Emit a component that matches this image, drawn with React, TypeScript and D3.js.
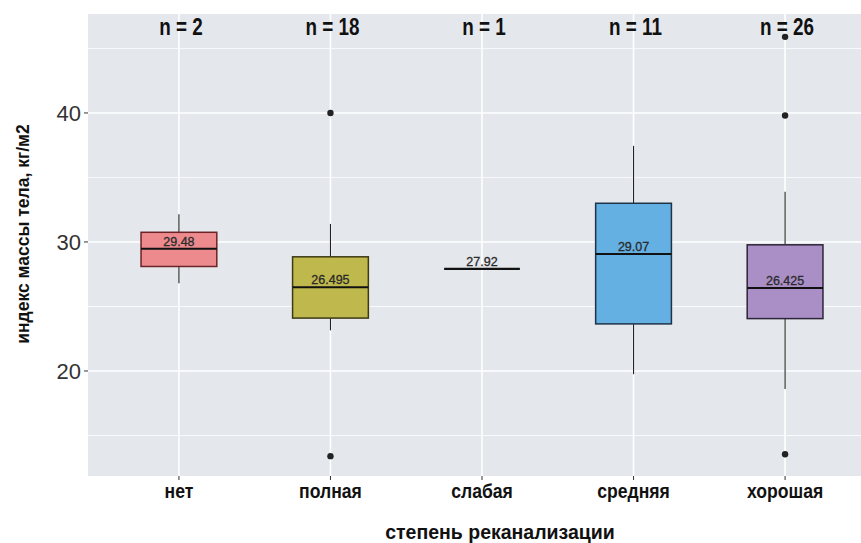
import React from 'react'
import * as d3 from 'd3'

const categories = ['нет', 'полная', 'слабая', 'средняя', 'хорошая']
const counts = [2, 18, 1, 11, 26]
const q1 = [28.1, 24.1, 27.92, 23.65, 24.06]
const medians = [29.48, 26.495, 27.92, 29.07, 26.425]
const medianLabels = ['29.48', '26.495', '27.92', '29.07', '26.425']
const q3 = [30.75, 28.85, 27.92, 33.0, 29.78]
const whiskerLo = [26.8, 23.15, 27.92, 19.75, 18.6]
const whiskerHi = [32.15, 31.4, 27.92, 37.45, 33.9]
const outliers = [[], [40.0, 13.4], [], [], [45.9, 39.8, 13.55]]
const fills = ['#EC8A8E', '#BFB84C', '#888888', '#64B0E3', '#A98FC6']
const strokes = ['#6b2326', '#3d3a14', '#222222', '#1f3346', '#2e2438']
const yTicks = [20, 30, 40]
const yMinor = [15, 25, 35, 45]

const W = 861
const H = 543
const panel = { left: 88, top: 14, right: 876, bottom: 476 }
const sans = '"Liberation Sans", Arial, sans-serif'

const App = () => {
  const x = d3.scalePoint<string>()
    .domain(categories)
    .range([panel.left, panel.right])
    .padding(0.6)
  const y = d3.scaleLinear().domain([11.86, 47.67]).range([panel.bottom, panel.top])
  const boxW = x.step() * 0.5

  return (
    <div style={{ position: 'absolute', left: 0, top: 0 }}>
      <svg width={W} height={H} style={{ display: 'block', background: '#fff' }}>
        <rect x={panel.left} y={panel.top} width={panel.right - panel.left}
          height={panel.bottom - panel.top} fill="#E4E7EC" />
        {yMinor.map((t) => (
          <line key={'mi' + t} x1={panel.left} x2={panel.right} y1={y(t)} y2={y(t)}
            stroke="#fff" strokeWidth={0.8} />
        ))}
        {yTicks.map((t) => (
          <line key={'ma' + t} x1={panel.left} x2={panel.right} y1={y(t)} y2={y(t)}
            stroke="#fff" strokeWidth={1.6} />
        ))}
        {categories.map((c) => (
          <line key={'v' + c} x1={x(c)} x2={x(c)} y1={panel.top} y2={panel.bottom}
            stroke="#fff" strokeWidth={1.6} />
        ))}

        {/* boxes */}
        {categories.map((c, i) => {
          const cx = x(c) as number
          if (counts[i] === 1) {
            return (
              <line key={'b' + c} x1={cx - boxW / 2} x2={cx + boxW / 2} y1={y(medians[i])} y2={y(medians[i])}
                stroke="#111" strokeWidth={2.2} />
            )
          }
          return (
            <g key={'b' + c}>
              <line x1={cx} x2={cx} y1={y(whiskerHi[i])} y2={y(q3[i])} stroke="#222" strokeWidth={1.1} />
              <line x1={cx} x2={cx} y1={y(q1[i])} y2={y(whiskerLo[i])} stroke="#222" strokeWidth={1.1} />
              <rect x={cx - boxW / 2} y={y(q3[i])} width={boxW} height={y(q1[i]) - y(q3[i])}
                fill={fills[i]} stroke={strokes[i]} strokeWidth={1.5} />
              <line x1={cx - boxW / 2} x2={cx + boxW / 2} y1={y(medians[i])} y2={y(medians[i])}
                stroke="#111" strokeWidth={2} />
            </g>
          )
        })}

        {/* outliers */}
        {categories.map((c, i) => outliers[i].map((v, j) => (
          <circle key={'o' + c + j} cx={x(c)} cy={y(v)} r={3.2} fill="#222" />
        )))}

        {/* median labels */}
        {categories.map((c, i) => (
          <text key={'m' + c} x={x(c)} y={y(medians[i]) - 3} textAnchor="middle"
            fontFamily={sans} fontSize={12.5} fill="#2a2a2a" stroke="#2a2a2a" strokeWidth={0.3}>
            {medianLabels[i]}
          </text>
        ))}

        {/* n labels, condensed bold */}
        {categories.map((c, i) => (
          <text key={'n' + c} transform={`translate(${(x(c) as number) + 2},35) scale(0.82,1)`}
            textAnchor="middle" fontFamily={sans} fontSize={23} fontWeight="bold" fill="#111">
            {`n = ${counts[i]}`}
          </text>
        ))}

        {/* y axis */}
        {yTicks.map((t) => (
          <g key={'yt' + t}>
            <line x1={panel.left - 4} x2={panel.left} y1={y(t)} y2={y(t)} stroke="#333" strokeWidth={1} />
            <text x={panel.left - 7} y={y(t)} dy="0.36em" textAnchor="end"
              fontFamily={sans} fontSize={22} fill="#333">{t}</text>
          </g>
        ))}

        {/* x axis */}
        {categories.map((c) => (
          <g key={'xt' + c}>
            <line x1={x(c)} x2={x(c)} y1={panel.bottom} y2={panel.bottom + 4} stroke="#333" strokeWidth={1} />
            <text transform={`translate(${x(c)},498) scale(0.88,1)`} textAnchor="middle"
              fontFamily={sans} fontSize={20} fontWeight="bold" fill="#111">{c}</text>
          </g>
        ))}

        <text x={500} y={539} textAnchor="middle" fontFamily={sans} fontSize={19.5}
          fontWeight="bold" fill="#111">степень реканализации</text>
        <text transform="translate(29,234) rotate(-90)" textAnchor="middle" fontFamily={sans}
          fontSize={17.5} fontWeight="bold" fill="#111">индекс массы тела, кг/м2</text>
      </svg>
    </div>
  )
}

export default App
